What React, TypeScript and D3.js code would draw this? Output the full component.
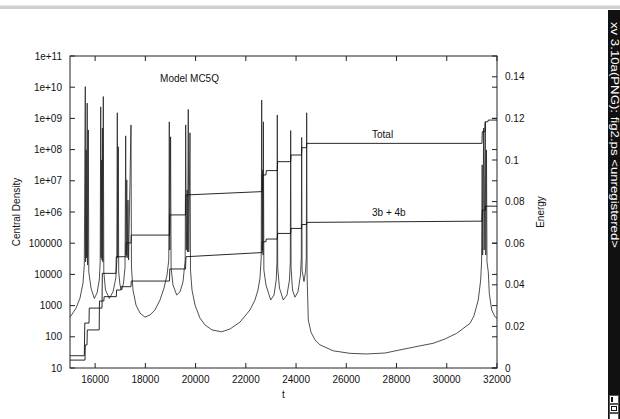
import React from "react";
import * as d3 from "d3";

// ---- data ----
const xTicks = [16000, 18000, 20000, 22000, 24000, 26000, 28000, 30000, 32000];
const densityTicks = [1e1, 1e2, 1e3, 1e4, 1e5, 1e6, 1e7, 1e8, 1e9, 1e10, 1e11];
const densityTickLabels = ["10", "100", "1000", "10000", "100000", "1e+06", "1e+07", "1e+08", "1e+09", "1e+10", "1e+11"];
const energyTicks = [0, 0.02, 0.04, 0.06, 0.08, 0.1, 0.12, 0.14];
const energyTickLabels = ["0", "0.02", "0.04", "0.06", "0.08", "0.1", "0.12", "0.14"];

// central density: time and log10(density)
const densT = [
  15000, 15239, 15398, 15518, 15569, 15609, 15621, 15645, 15657, 15685, 15701, 15729, 15748,
  15836, 15967, 16075, 16166, 16202, 16222, 16238, 16262, 16274, 16290, 16306, 16326, 16346,
  16413, 16565, 16712, 16823, 16863, 16883, 16899, 16923, 16939,
  16991, 17058, 17130, 17190, 17217, 17233, 17261, 17277, 17309, 17333, 17428, 17448,
  17508, 17627, 17787, 17986, 18185, 18384, 18583, 18742, 18862, 18933, 18953, 18973, 19005, 19025,
  19100, 19248, 19379, 19499, 19586, 19606, 19630, 19666, 19682, 19709, 19729, 19777, 19797,
  19857, 19976, 20175, 20374, 20653, 21039, 21369, 21767, 22165, 22365, 22484, 22564, 22612,
  22632, 22652, 22676, 22684, 22699, 22719,
  22803, 22990, 23122, 23209, 23241, 23253, 23269,
  23340, 23491, 23639, 23738, 23770, 23786, 23802,
  23858, 23957, 24077, 24176, 24208, 24224, 24240,
  24315, 24375, 24407, 24423, 24439,
  24487, 24594, 24754, 24953, 25482, 26147, 26812, 27540, 28137, 28934, 29451, 29929, 30395,
  30725, 30924, 31083, 31254, 31350, 31386, 31410, 31430, 31469, 31489, 31533, 31553, 31581, 31601,
  31653, 31693, 31788, 31920, 32000,
];
const densLog10 = [
  2.63, 2.92, 3.24, 3.72, 4.30, 10.02, 4.40, 7.99, 4.53, 9.49, 4.30, 8.63, 4.08,
  3.56, 3.23, 3.40, 3.82, 4.40, 9.37, 4.53, 7.67, 4.46, 8.69, 4.40, 9.70, 4.08,
  3.50, 3.23, 3.44, 3.88, 4.40, 9.18, 4.53, 8.09, 4.08,
  3.66, 3.50, 3.72, 4.21, 8.44, 4.62, 7.03, 4.53, 6.38, 4.46, 8.79, 4.21,
  3.50, 3.02, 2.76, 2.63, 2.70, 2.86, 3.18, 3.56, 3.98, 4.46, 8.89, 4.78, 8.41, 4.21,
  3.66, 3.34, 3.44, 3.76, 4.46, 8.79, 4.78, 6.71, 4.72, 9.29, 4.72, 8.54, 4.14,
  3.50, 3.02, 2.60, 2.38, 2.22, 2.16, 2.25, 2.47, 2.86, 3.18, 3.50, 3.88, 4.53,
  9.59, 4.78, 7.35, 4.62, 8.89, 4.14,
  3.66, 3.18, 3.34, 3.82, 4.40, 9.11, 4.21,
  3.56, 3.18, 3.34, 3.82, 4.40, 8.61, 4.21,
  3.50, 3.27, 3.44, 3.98, 4.53, 8.39, 4.14,
  3.77, 4.08, 4.53, 9.18, 3.98,
  2.54, 2.15, 1.90, 1.74, 1.55, 1.47, 1.45, 1.48, 1.58, 1.71, 1.79, 1.93, 2.11,
  2.31, 2.43, 2.67, 3.18, 3.82, 4.40, 7.51, 4.62, 8.69, 4.78, 8.88, 4.62, 7.99, 4.40,
  4.08, 3.39, 2.86, 2.64, 2.60,
];

// total energy staircase
const totalT = [
  15000, 15569, 15589, 15756, 15768, 16274, 16286, 16831, 16843, 17229, 17241, 17428, 17440,
  18961, 18973, 19598, 19618, 22643, 22655, 22803, 22815, 23253, 23265, 23786, 23798, 24216,
  24228, 24415, 24427, 31402, 31414, 31521, 31533, 31641, 31653, 32000,
];
const totalE = [
  0.0059, 0.0059, 0.0216, 0.0216, 0.0288, 0.0288, 0.0455, 0.0455, 0.0535, 0.0535, 0.0601, 0.0601, 0.0639,
  0.0639, 0.0736, 0.0736, 0.0832, 0.0848, 0.0928, 0.0928, 0.0949, 0.0949, 0.0992, 0.0992, 0.1024, 0.1024,
  0.1059, 0.1059, 0.1080, 0.1080, 0.1136, 0.1136, 0.1184, 0.1184, 0.1192, 0.1192,
];

// 3b + 4b energy staircase
const b34T = [
  15000, 15597, 15609, 15677, 15689, 16162, 16174, 16346, 16358, 16843, 16855, 17022, 17034,
  17428, 17440, 18961, 18973, 19598, 19618, 22643, 22655, 22803, 22815, 23253, 23265, 23786,
  23798, 24216, 24228, 24415, 24427, 31402, 31414, 31533, 31545, 32000,
];
const b34E = [
  0.0038, 0.0038, 0.0111, 0.0111, 0.0183, 0.0183, 0.0322, 0.0322, 0.0343, 0.0343, 0.0375, 0.0375, 0.0391,
  0.0391, 0.0418, 0.0418, 0.0476, 0.0476, 0.0535, 0.0555, 0.0607, 0.0607, 0.0620, 0.0620, 0.0647, 0.0647,
  0.0671, 0.0671, 0.0690, 0.0690, 0.0700, 0.0706, 0.0759, 0.0759, 0.0778, 0.0778,
];

const FONT = "'Liberation Sans', Arial, Helvetica, sans-serif";

export default function App() {
  const W = 620, H = 419;
  const L = 70, R = 497, T = 56, B = 368;
  const x = d3.scaleLinear().domain([15000, 32000]).range([L, R]);
  const yL = d3.scaleLog().domain([10, 1e11]).range([B, T]);
  const yR = d3.scaleLinear().domain([0, 0.15]).range([B, T]);

  const densPts: [number, number][] = densT.map((t, i) => [x(t), yL(Math.pow(10, densLog10[i]))]);
  const totPts: [number, number][] = totalT.map((t, i) => [x(t), yR(totalE[i])]);
  const bPts: [number, number][] = b34T.map((t, i) => [x(t), yR(b34E[i])]);
  const line = d3.line();

  const tick = 5;
  const textStyle = { fontFamily: FONT, fontSize: 10, fill: "#111" };

  return (
    <svg width={W} height={H} style={{ position: "absolute", left: 0, top: 0, background: "#fff" }}>
      <rect x={0} y={0} width={W} height={H} fill="#fff" />
      {/* window top strip */}
      <rect x={0} y={5} width={W} height={1} fill="#e6e6e6" />
      <rect x={0} y={6} width={W} height={3} fill="#cfcfcf" />

      {/* data lines */}
      <path d={line(densPts) || ""} fill="none" stroke="#222" strokeWidth={0.8} />
      <path d={line(totPts) || ""} fill="none" stroke="#111" strokeWidth={0.9} />
      <path d={line(bPts) || ""} fill="none" stroke="#111" strokeWidth={0.9} />

      {/* frame */}
      <rect x={L} y={T} width={R - L} height={B - T} fill="none" stroke="#222" strokeWidth={1} />

      {/* x ticks */}
      {xTicks.map((t) => (
        <g key={"x" + t}>
          <line x1={x(t)} x2={x(t)} y1={B} y2={B - tick} stroke="#222" />
          <line x1={x(t)} x2={x(t)} y1={T} y2={T + tick} stroke="#222" />
          <text x={x(t)} y={383} textAnchor="middle" style={textStyle}>{t}</text>
        </g>
      ))}
      {/* left ticks */}
      {densityTicks.map((d, i) => (
        <g key={"yl" + i}>
          <line x1={L} x2={L + tick} y1={yL(d)} y2={yL(d)} stroke="#222" />
          <line x1={R} x2={R - tick} y1={yL(d)} y2={yL(d)} stroke="#222" />
          <text x={62} y={yL(d) + 3.5} textAnchor="end" style={textStyle}>{densityTickLabels[i]}</text>
        </g>
      ))}
      {/* right ticks */}
      {energyTicks.map((e, i) => (
        <g key={"yr" + i}>
          <line x1={R} x2={R - tick} y1={yR(e)} y2={yR(e)} stroke="#222" />
          <text x={505} y={yR(e) + 3.5} textAnchor="start" style={textStyle}>{energyTickLabels[i]}</text>
        </g>
      ))}

      {/* titles */}
      <text x={283.5} y={398} textAnchor="middle" style={textStyle}>t</text>
      <text transform={`translate(20,${(T + B) / 2}) rotate(-90)`} textAnchor="middle" style={textStyle}>Central Density</text>
      <text transform={`translate(544,${(T + B) / 2}) rotate(-90)`} textAnchor="middle" style={textStyle}>Energy</text>
      <text x={189.5} y={82} textAnchor="middle" style={textStyle}>Model MC5Q</text>
      <text x={372} y={138} textAnchor="start" style={textStyle}>Total</text>
      <text x={372} y={216} textAnchor="start" style={textStyle}>3b + 4b</text>

      {/* xv side bar */}
      <rect x={608} y={10} width={12} height={H - 10} fill="#111" />
      <text transform="translate(611,22) rotate(90)" style={{ fontFamily: FONT, fontSize: 10, fill: "#fff" }}
        textLength={226} lengthAdjust="spacingAndGlyphs">xv 3.10a(PNG): fig2.ps &lt;unregistered&gt;</text>
      <rect x={609.5} y={395.5} width={9} height={8} fill="#fff" stroke="#555" />
      <rect x={611} y={397} width={2} height={5} fill="#111" />
      <rect x={609.5} y={404.5} width={9} height={8} fill="#fff" stroke="#555" />
      <rect x={611.5} y={406.5} width={5} height={4} fill="none" stroke="#111" />
      <rect x={609.5} y={413.5} width={9} height={6} fill="#fff" stroke="#555" />
    </svg>
  );
}
